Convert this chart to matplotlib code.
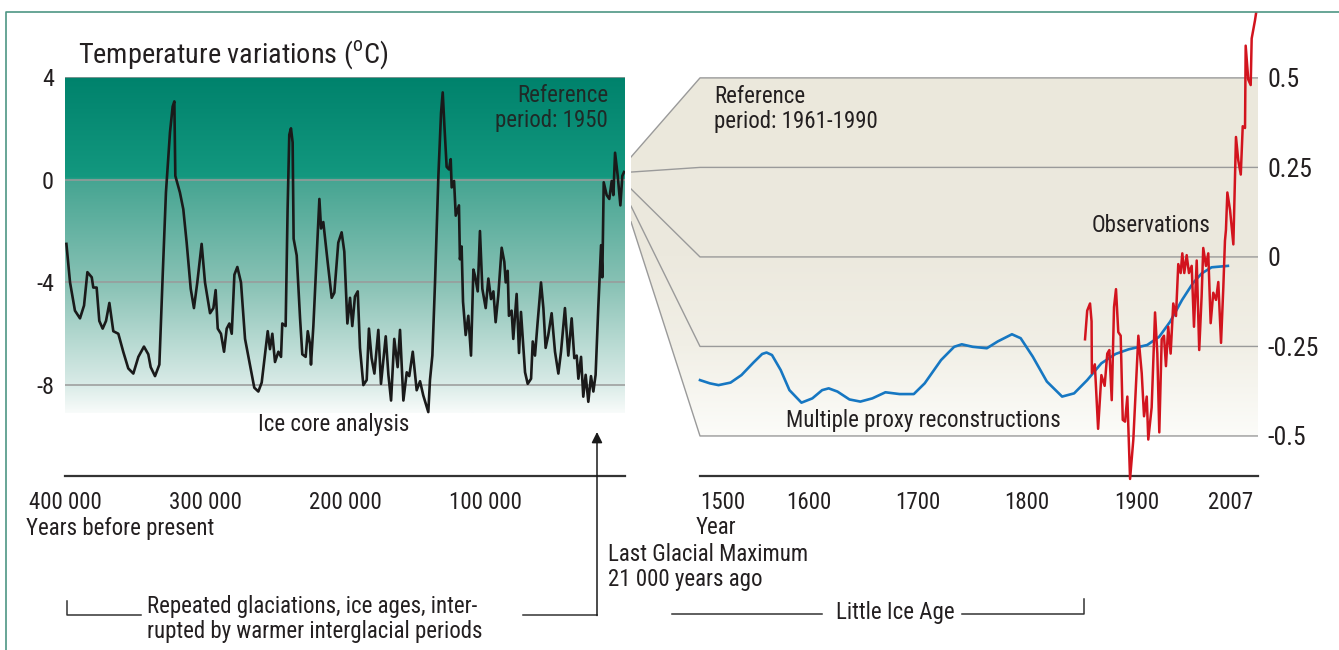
import numpy as np
import matplotlib
matplotlib.use("Agg")
from matplotlib import pyplot as plt
from matplotlib import font_manager as fm
from matplotlib.colors import LinearSegmentedColormap
from matplotlib.patches import Polygon

# look for a narrow sans face, the original uses a condensed grotesque
fonts = fm.fontManager.ttflist
names = {f.name for f in fonts}
FAM, STRETCH = 'DejaVu Sans', 'normal'
for n in ['Liberation Sans Narrow', 'Arial Narrow', 'Roboto Condensed', 'Open Sans Condensed',
          'Noto Sans Condensed', 'DejaVu Sans Condensed']:
    if n in names:
        FAM = n
        break
else:
    for n in ['Roboto', 'Noto Sans', 'Open Sans', 'DejaVu Sans']:
        if any(f.name == n and 'condensed' in str(f.stretch) for f in fonts):
            FAM, STRETCH = n, 'condensed'
            break

plt.rcParams['font.family'] = [FAM, 'DejaVu Sans']
plt.rcParams['font.stretch'] = STRETCH
plt.rcParams['mathtext.fontset'] = 'custom'
plt.rcParams['mathtext.rm'] = FAM + ':stretch=' + STRETCH

# ice core record: thousand years before present, temperature (deg C, ref 1950)
ice_kyr = [399, 396.4, 392.9, 389.3, 386.4, 384, 380.9, 379.8, 377.4, 375.5, 373.1, 370.7,
           368.3, 365.5, 361.9, 358.4, 354.8, 351.2, 347.6, 343.6, 340.5, 338.8, 335.7, 332.6,
           330.2, 327.9, 325, 323.1, 321.9, 321.2, 317.9, 315.5, 313.1, 310.2, 307.9, 305.5,
           302.4, 300, 296.4, 294, 292.4, 290.9, 288.6, 286.4, 284.5, 282.6, 280.9, 279,
           276.9, 274.3, 271.4, 267.9, 264.8, 261.9, 259.5, 257.1, 255.2, 253.6, 251.9, 250,
           247.6, 245.7, 244.8, 242.4, 241, 239.8, 238.6, 237.4, 236.7, 234.5, 232.1, 230.5,
           228.1, 226.6, 225, 224.3, 222.6, 220.2, 218.3, 217.1, 215.5, 212.4, 209.5, 207.6,
           204.8, 202.4, 200.5, 198.3, 196.4, 194.8, 192.9, 190.9, 189.3, 186.9, 184.5, 182.9,
           181, 179, 176.2, 174.3, 170.9, 169, 167.1, 164.8, 162.4, 160.7, 158.3, 155.9,
           154.1, 151.6, 148.8, 146.4, 144.1, 140.5, 139.3, 137.6, 135.7, 133.3, 131.4, 130.2,
           129, 127.4, 125.7, 124.5, 123.8, 122.1, 120.9, 118.6, 117.9, 116.7, 115.7, 113.8,
           111.9, 110, 108.3, 107.1, 105.2, 103.6, 101.9, 99.5, 97.6, 95.7, 94, 92.4,
           90.5, 88.1, 86.2, 85.2, 83.8, 82.9, 81, 79.8, 77.4, 75.7, 74.3, 71.4,
           69.5, 67.1, 65.9, 64.3, 62.4, 60, 58.3, 56.7, 54.8, 52.4, 50, 47.6,
           45.7, 42.9, 40.5, 38.1, 36.2, 34.5, 33.3, 31.4, 29.8, 28.1, 26.2, 24.3,
           22.6, 21, 19.1, 17.1, 16.2, 15.2, 13.1, 11.2, 9.5, 8.3, 7.1, 5.2,
           3.3, 1.9, 0.7]
ice_temp = [-2.5, -4.0, -5.1, -5.4, -4.9, -3.6, -3.8, -4.2, -4.2, -5.5, -5.8, -5.5,
            -4.8, -5.9, -6.0, -6.7, -7.35, -7.55, -6.9, -6.5, -6.8, -7.3, -7.65, -7.2,
            -3.7, -0.5, 1.85, 2.85, 3.05, 0.15, -0.5, -1.15, -2.45, -4.25, -5.0, -4.0,
            -2.5, -4.0, -5.2, -5.0, -4.3, -5.8, -6.0, -6.7, -5.8, -5.6, -6.0, -3.7,
            -3.4, -4.0, -6.2, -7.2, -8.1, -8.25, -7.9, -6.8, -5.9, -6.6, -6.0, -7.1,
            -6.7, -6.9, -5.6, -5.7, -1.15, 1.75, 2.0, 1.45, -2.3, -2.95, -5.4, -6.8,
            -6.9, -5.9, -6.4, -7.2, -5.7, -2.95, -0.75, -1.9, -1.65, -3.2, -4.6, -4.4,
            -2.45, -2.05, -2.8, -5.6, -4.6, -5.7, -4.55, -4.35, -6.55, -8.0, -7.8, -5.8,
            -6.95, -7.55, -5.85, -7.95, -6.1, -7.6, -8.6, -6.2, -7.3, -5.85, -8.6, -7.5,
            -7.65, -6.7, -8.2, -7.85, -8.4, -9.05, -7.8, -6.85, -4.0, 0.15, 2.6, 3.4,
            2.1, 0.5, 0.4, 0.8, -0.3, -0.05, -1.4, -1.0, -3.1, -2.6, -4.75, -6.05,
            -5.3, -6.85, -3.5, -3.75, -4.35, -2.0, -4.25, -5.0, -3.85, -4.65, -4.35, -5.55,
            -4.5, -2.65, -3.2, -4.0, -3.55, -5.3, -5.1, -6.2, -4.45, -6.75, -5.15, -7.5,
            -7.95, -7.75, -6.3, -6.85, -5.55, -4.0, -5.0, -6.55, -6.05, -5.2, -6.7, -7.55,
            -6.7, -5.0, -6.85, -5.4, -6.95, -6.85, -7.75, -6.9, -8.45, -7.6, -8.65, -7.65,
            -8.25, -7.6, -5.0, -2.55, -3.8, -0.1, -0.6, -0.75, -0.05, -0.6, 1.05, 0.15,
            -1.0, 0.15, 0.3]

# multiple proxy reconstructions (ref 1961-1990)
proxy_year = [1500, 1509, 1517, 1528, 1538, 1549, 1557, 1561, 1566, 1574, 1582, 1593,
              1603, 1612, 1618, 1626, 1637, 1647, 1658, 1670, 1683, 1696, 1706, 1721,
              1733, 1740, 1750, 1763, 1773, 1786, 1794, 1805, 1818, 1832, 1843, 1855,
              1868, 1881, 1893, 1910, 1921, 1931, 1942, 1952, 1960, 1969, 1984]
proxy_temp = [-0.344, -0.353, -0.358, -0.351, -0.330, -0.295, -0.271, -0.267, -0.274, -0.316,
              -0.372, -0.407, -0.395, -0.372, -0.367, -0.376, -0.398, -0.404, -0.395, -0.378,
              -0.383, -0.383, -0.353, -0.288, -0.251, -0.244, -0.251, -0.255, -0.236, -0.216,
              -0.227, -0.278, -0.348, -0.390, -0.381, -0.344, -0.297, -0.271, -0.258, -0.246,
              -0.223, -0.181, -0.120, -0.073, -0.046, -0.029, -0.025]

# instrumental observations
obs_year = [1853, 1855, 1857.6, 1859, 1859.3, 1862, 1865, 1868, 1871, 1873.4, 1875.3, 1877.5,
            1879.6, 1881.4, 1883.5, 1885.7, 1887.6, 1889.7, 1891.8, 1894.3, 1897.3, 1901.9, 1905, 1907.1,
            1909.6, 1911, 1914.1, 1917.2, 1919.3, 1921.1, 1923.3, 1925.4, 1927.2, 1929.3, 1931.5, 1933.9,
            1936.4, 1938.5, 1940.7, 1942.2, 1944, 1946.2, 1948.3, 1950.8, 1952.9, 1955.4, 1957.7, 1959.9,
            1961.4, 1963.9, 1966, 1968.2, 1970.6, 1973.1, 1975.2, 1977.7, 1979.8, 1981.3, 1982.2, 1983.5,
            1986, 1989, 1991.4, 1993.5, 1995.8, 1997.6, 1999.7, 2000.3, 2002.7, 2004.9, 2005.8, 2008.8,
            2010.3]
obs_temp = [-0.23, -0.15, -0.13, -0.18, -0.325, -0.30, -0.48, -0.33, -0.36, -0.27, -0.26, -0.40,
            -0.14, -0.09, -0.21, -0.22, -0.455, -0.46, -0.39, -0.62, -0.51, -0.22, -0.325, -0.445,
            -0.39, -0.51, -0.42, -0.155, -0.27, -0.49, -0.23, -0.22, -0.305, -0.195, -0.27, -0.13,
            -0.165, -0.02, -0.045, 0.01, -0.045, 0.005, -0.045, -0.025, -0.195, -0.01, -0.26, -0.11,
            0.025, -0.025, 0.01, -0.185, -0.10, -0.12, -0.07, -0.24, -0.085, 0.045, 0.075, 0.18,
            0.13, 0.035, 0.335, 0.27, 0.23, 0.365, 0.36, 0.59, 0.495, 0.48, 0.61, 0.66,
            0.69]

left_xticks = [400, 300, 200, 100]
left_xticklabels = ['400 000', '300 000', '200 000', '100 000']
left_yticks = [4, 0, -4, -8]
right_xticks = [1600, 1700, 1800, 1900]
right_xends = [1500, 2007]
right_yticks = [0.5, 0.25, 0, -0.25, -0.5]
# where the fan lines leave the ice core panel, on the right-hand scale
link_levels = [0.279, 0.237, 0.19, 0.142, 0.098]

W, H = 1339, 650
TXT = '#231f20'
GRID = '#9a9a9a'
FS = 16.5


def rect(x0, y0, x1, y1):
    return [x0 / W, 1 - y1 / H, (x1 - x0) / W, (y1 - y0) / H]


fig = plt.figure(figsize=(W / 100, H / 100), dpi=100)

# ---------- ice core panel ----------
ax_l = fig.add_axes(rect(65, 77, 625, 476))
ax_l.set_xlim(400, 0)
ax_l.set_ylim(-11.54, 4)
teal = LinearSegmentedColormap.from_list('teal', [
    (0, '#00826c'), (0.30, '#13987f'), (0.31, '#46a592'),
    (0.611, '#87c1b4'), (0.916, '#d9ebe7'), (1, '#f8fbfa')])
ax_l.imshow(np.linspace(0, 1, 256).reshape(-1, 1), cmap=teal, aspect='auto',
            extent=[400, 0.7, -9.1, 4], zorder=0)
for v in [4, 0, -4, -8]:
    ax_l.axhline(v, color=GRID, lw=1.1, zorder=1)
ax_l.plot(ice_kyr, ice_temp, color='#1a1a1a', lw=1.9, zorder=3)
ax_l.set_xticks(left_xticks)
ax_l.set_xticklabels(left_xticklabels)
ax_l.set_yticks(left_yticks)
ax_l.set_yticklabels(['4', '0', '-4', '-8'])
ax_l.tick_params(axis='x', length=0, pad=11, labelsize=16.5, labelcolor=TXT)
ax_l.tick_params(axis='y', length=0, pad=8, labelsize=17.5, labelcolor=TXT)
for s in ['top', 'left', 'right']:
    ax_l.spines[s].set_visible(False)
ax_l.spines['bottom'].set_color('#333333')
ax_l.spines['bottom'].set_linewidth(1.6)
ax_l.patch.set_alpha(0)

# ---------- instrumental / proxy panel ----------
xl = 1500 - (700 - 631) / 1.0907
xr = 1500 + (1258 - 700) / 1.0907
ax_r = fig.add_axes(rect(631, 12, 1258, 486.1))
ax_r.set_xlim(xl, xr)
ax_r.set_ylim(-0.64, 0.684)
beige = LinearSegmentedColormap.from_list('beige', [
    (0, '#ebe8dc'), (0.5, '#ece9de'), (0.75, '#f1efe6'), (1, '#fcfcf9')])
fan = Polygon([(xl, link_levels[0]), (1500, 0.5), (xr, 0.5), (xr, -0.5),
               (1500, -0.5), (xl, link_levels[-1])], closed=True,
              transform=ax_r.transData, facecolor='none', edgecolor='none')
ax_r.add_patch(fan)
im = ax_r.imshow(np.linspace(0, 1, 256).reshape(-1, 1), cmap=beige, aspect='auto',
                 extent=[xl, xr, -0.5, 0.5], zorder=0)
im.set_clip_path(fan)
for lv, tk in zip(link_levels, right_yticks):
    ax_r.plot([xl, 1500, xr], [lv, tk, tk], color=GRID, lw=1.0, zorder=1)
ax_r.plot(proxy_year, proxy_temp, color='#1677c2', lw=1.9, zorder=3)
ax_r.plot(obs_year, obs_temp, color='#d2141e', lw=1.8, zorder=4)
for s in ['top', 'left', 'right']:
    ax_r.spines[s].set_visible(False)
ax_r.spines['bottom'].set_position(('data', -0.612))
ax_r.spines['bottom'].set_bounds(1500, xr)
ax_r.spines['bottom'].set_color('#333333')
ax_r.spines['bottom'].set_linewidth(1.6)
ax_r.patch.set_alpha(0)
ax_r.set_xticks(right_xticks)
ax_r.set_xticklabels([str(t) for t in right_xticks])
ax_r.yaxis.tick_right()
ax_r.set_yticks(right_yticks)
ax_r.set_yticklabels(['0.5', '0.25', '0', '-0.25', '-0.5'])
ax_r.tick_params(axis='x', length=0, pad=11, labelsize=16.5, labelcolor=TXT)
ax_r.tick_params(axis='y', length=0, pad=7, labelsize=18.5, labelcolor=TXT)
# first and last year labels sit inside the axis ends
lab_y = -0.612 - 11 * (100 / 72) / 358
for yr, ha in zip(right_xends, ['left', 'right']):
    ax_r.text(yr, lab_y, str(yr), fontsize=16.5, color=TXT, ha=ha, va='top', clip_on=False)

# ---------- annotations layer (pixel coordinates) ----------
ax_o = fig.add_axes([0, 0, 1, 1], zorder=5)
ax_o.set_xlim(0, W)
ax_o.set_ylim(H, 0)
ax_o.axis('off')

ax_o.plot([6, 6, W], [H, 12, 12], color='#4e9684', lw=1.2, solid_capstyle='butt')

ax_o.text(78, 55, 'Temperature variations ($^{\\mathrm{o}}$C)', fontsize=20.3,
          color=TXT, ha='left', va='center')
ax_o.text(608, 108, 'Reference\nperiod: 1950', fontsize=FS, color='#1f2a27',
          ha='right', va='center', ma='right', linespacing=1.1)
ax_o.text(334, 425, 'Ice core analysis', fontsize=FS, color=TXT, ha='center', va='center')
ax_o.text(714, 109, 'Reference\nperiod: 1961-1990', fontsize=FS, color=TXT,
          ha='left', va='center', linespacing=1.1)
ax_o.text(1151, 225, 'Observations', fontsize=FS, color=TXT, ha='center', va='center')
ax_o.text(923, 421, 'Multiple proxy reconstructions', fontsize=FS, color=TXT,
          ha='center', va='center')

ax_o.text(26, 529, 'Years before present', fontsize=FS, color=TXT, ha='left', va='center')
ax_o.text(696, 527, 'Year', fontsize=FS, color=TXT, ha='left', va='center')
ax_o.text(608, 567, 'Last Glacial Maximum\n21 000 years ago', fontsize=FS, color=TXT,
          ha='left', va='center', linespacing=1.15)
ax_o.text(147, 619, 'Repeated glaciations, ice ages, inter-\nrupted by warmer interglacial periods',
          fontsize=FS, color=TXT, ha='left', va='center', linespacing=1.15)
ax_o.text(895, 612, 'Little Ice Age', fontsize=FS, color=TXT, ha='center', va='center')

br = dict(color='#333333', lw=1.1)
ax_o.plot([67, 67, 141], [601, 615, 615], **br)
ax_o.plot([523, 597], [615, 615], **br)
ax_o.annotate('', xy=(597, 432), xytext=(597, 615.5),
              arrowprops=dict(arrowstyle='-|>', color='#1a1a1a', lw=1.1,
                              mutation_scale=16, shrinkA=0, shrinkB=0))
ax_o.plot([672, 822], [614, 614], **br)
ax_o.plot([962, 1084, 1084], [614, 614, 599], **br)

fig.savefig('out.png', dpi=100)
